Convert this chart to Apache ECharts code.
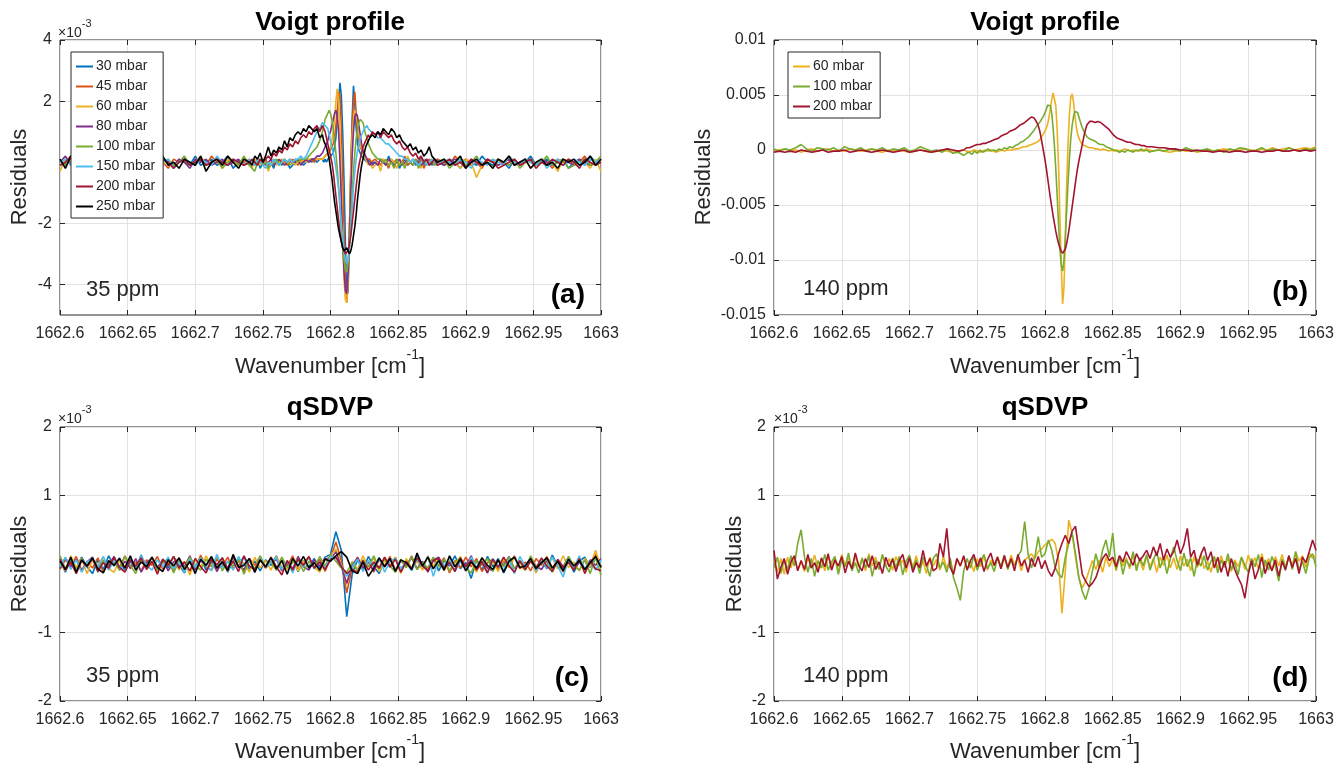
<!DOCTYPE html>
<html><head><meta charset="utf-8">
<script src="https://cdn.jsdelivr.net/npm/echarts@6/dist/echarts.min.js"></script>
<style>html,body{margin:0;padding:0;background:#fff}#c{width:1338px;height:764px}</style>
</head><body><div id="c"></div>
<script>
// ---------- x grids (offsets above 1662.6 cm-1) ----------
// panels (a),(b): thousandths of cm-1
const wnAB = [0,4,8,12,16,20,24,28,32,36,40,44,48,52,56,60,64,68,72,76,80,84,88,92,96,100,104,108,112,116,120,124,128,132,136,140,
142,144,146,148,150,152,154,156,158,160,162,164,166,168,170,172,174,176,178,180,182,184,186,188,190,192,194,
195,196,197,198,199,200,201,202,203,204,205,206,207,208,209,210,211,212,213,214,215,216,217,218,219,220,221,222,223,224,225,226,227,228,229,230,231,
233,235,237,239,241,243,245,247,249,251,253,255,257,259,261,263,265,267,269,271,273,275,277,279,
284,288,292,296,300,304,308,312,316,320,324,328,332,336,340,344,348,352,356,360,364,368,372,376,380,384,388,392,396,400];
// panel (c): thousandths of cm-1
const wnC = [0,4,8,12,16,20,24,28,32,36,40,44,48,52,56,60,64,68,72,76,80,84,88,92,96,100,104,108,112,116,120,124,128,132,136,140,144,148,152,156,160,164,168,172,176,180,184,188,192,196,200,204,208,212,216,220,224,228,232,236,240,244,248,252,256,260,264,268,272,276,280,284,288,292,296,300,304,308,312,316,320,324,328,332,336,340,344,348,352,356,360,364,368,372,376,380,384,388,392,396,400];
// panel (d): ten-thousandths of cm-1
const wnD = [0,25,50,75,100,125,150,175,200,225,250,275,300,325,350,375,400,425,450,475,500,525,550,575,600,625,650,675,700,725,750,775,800,825,850,875,900,925,950,975,1000,1025,1050,1075,1100,1125,1150,1175,1200,1225,1250,1275,1300,1325,1350,1375,1400,1425,1450,1475,1500,1525,1550,1575,1600,1625,1650,1675,1700,1725,1750,1775,1800,1825,1850,1875,1900,1925,1950,1975,2000,2025,2050,2075,2100,2125,2150,2175,2200,2225,2250,2275,2300,2325,2350,2375,2400,2425,2450,2475,2500,2525,2550,2575,2600,2625,2650,2675,2700,2725,2750,2775,2800,2825,2850,2875,2900,2925,2950,2975,3000,3025,3050,3075,3100,3125,3150,3175,3200,3225,3250,3275,3300,3325,3350,3375,3400,3425,3450,3475,3500,3525,3550,3575,3600,3625,3650,3675,3700,3725,3750,3775,3800,3825,3850,3875,3900,3925,3950,3975,4000];

const names8 = ['30 mbar','45 mbar','60 mbar','80 mbar','100 mbar','150 mbar','200 mbar','250 mbar'];
const colors8 = ['#0072BD','#D95319','#EDB120','#7E2F8E','#77AC30','#4DBEEE','#A2142F','#000000'];
const names3 = ['60 mbar','100 mbar','200 mbar'];
const colors3 = ['#EDB120','#77AC30','#A2142F'];

// ---------- (a) Voigt, 35 ppm : units 0.1e-3 ----------
const a30 = [1,-1,2,0,-2,1,-1,0,2,-1,0,1,-2,0,1,-1,2,0,-1,1,0,-2,1,0,-1,2,-1,0,1,-1,0,2,-2,0,1,-1,
0,-1,1,-2,0,1,-1,0,-2,1,0,-1,1,0,-2,-1,0,1,0,-1,0,1,0,1,0,1,1,
0,1,0,1,1,2,2,3,5,8,14,20,26,22,10,-6,-26,-44,-42,-24,-4,14,25,19,11,6,4,3,2,2,1,1,0,1,0,-1,0,
0,-1,1,0,-1,2,0,-1,1,-2,0,1,-1,0,1,-1,0,2,-1,0,1,-1,0,1,
-1,1,0,-2,1,0,-1,2,0,-1,1,0,-2,1,-1,0,2,-1,0,1,-1,0,1,-2,0,1,-1,2,0,1];
const a45 = [-1,0,1,-1,2,0,-1,1,0,-2,1,0,-1,1,2,-1,0,-1,1,0,-2,1,0,1,-1,0,1,-1,2,0,-1,1,0,-1,0,1,
-1,0,1,0,-1,1,-2,0,1,0,-1,1,0,-1,0,1,0,-1,1,0,1,0,1,0,1,1,1,
1,2,2,3,3,4,5,6,8,12,17,23,22,12,-4,-22,-38,-46,-40,-22,-2,12,20,23,16,10,7,5,4,3,2,2,1,1,1,0,0,
1,0,-1,1,0,-2,1,0,1,-1,0,2,-1,0,1,0,-1,1,-2,0,1,0,-1,1,
0,-1,2,0,1,-1,0,-2,1,0,1,-1,2,0,-1,1,0,-1,1,0,-2,1,0,1,-1,0,2,-1,0,1];
const a60 = [-3,1,0,-1,2,-1,0,1,-2,0,1,-1,0,2,-1,0,1,3,0,-1,1,-2,0,1,-1,0,2,-1,0,1,-2,1,0,-1,1,0,
-2,1,0,-1,1,0,-3,0,1,-1,0,1,-1,0,1,0,-1,1,0,1,0,1,1,1,1,1,1,
1,2,2,3,4,5,7,10,14,20,24,20,10,-6,-24,-38,-45,-46,-38,-22,-4,8,14,17,17,13,9,6,4,3,2,1,0,-1,0,-1,-2,
-1,0,-3,1,0,-1,1,0,-2,1,0,-1,2,0,-1,1,0,-2,1,0,-1,1,0,-1,
1,-1,0,-2,1,0,-5,-1,0,1,-1,0,2,-1,0,1,-2,0,1,-1,0,-3,1,0,-1,1,0,-2,1,-3];
const a80 = [0,2,-1,0,1,-1,0,1,-2,0,1,0,-1,1,0,-1,2,0,-1,1,0,-1,1,0,-2,1,0,1,-1,0,1,-1,0,1,-1,0,
1,0,-1,1,0,-1,0,1,-1,0,1,0,-1,0,1,0,0,1,-1,0,1,0,1,1,2,2,3,
4,5,6,7,9,10,12,14,16,17,15,10,0,-12,-26,-36,-42,-43,-36,-24,-10,2,10,15,16,15,12,9,6,4,3,2,1,0,-1,0,-1,
0,-1,1,0,-1,1,0,-1,0,1,-1,0,1,0,-1,1,0,-1,0,1,-1,0,1,0,
-1,0,1,0,-1,1,0,-1,1,0,-1,0,1,-1,0,1,0,-1,1,0,-1,0,1,0,-1,1,0,-1,0,1];
const a100 = [1,-1,2,0,-1,1,3,-1,0,1,-2,0,1,-1,2,0,-1,1,-2,0,1,-1,0,2,-1,0,1,-1,0,1,-2,0,1,-1,2,-1,
-2,-3,0,1,-1,0,-2,-1,0,1,-1,0,1,0,-1,0,1,0,1,1,1,2,3,4,5,7,10,
12,14,15,16,17,16,14,11,7,3,-2,-8,-15,-22,-28,-32,-35,-36,-33,-27,-19,-10,-3,3,8,11,13,14,14,13,11,9,8,6,5,4,3,
2,1,1,0,1,-1,0,-2,1,-1,0,-2,1,0,-1,1,-2,0,1,-1,0,1,-1,0,
1,-2,0,1,-1,0,2,-1,0,-2,1,0,-1,1,-2,0,1,-1,0,2,-1,0,1,-2,-1,0,1,-1,0,2];
const a150 = [0,1,-1,2,0,-1,1,0,-2,1,0,-1,1,0,2,-1,0,1,-1,0,1,-2,0,1,0,-1,1,0,-1,2,0,-1,1,0,-1,1,
0,-1,1,0,-1,-2,0,-1,1,0,-1,0,1,0,1,0,1,1,2,1,2,4,6,8,10,11,13,
13,12,12,11,9,7,5,3,1,-2,-5,-9,-14,-20,-25,-29,-32,-33,-32,-28,-22,-15,-8,-3,1,4,6,8,9,10,11,11,12,11,11,10,10,
9,8,8,7,6,6,5,4,3,2,2,1,1,0,1,0,-1,0,1,-1,0,1,0,-1,
1,0,-1,1,0,-2,1,0,-1,1,0,-1,2,0,-1,1,0,-1,1,-2,0,1,-1,0,1,0,-1,1,0,1];
const a200 = [-1,0,2,-1,1,0,-2,1,0,-1,1,0,-1,2,0,-1,0,1,-1,1,0,-2,0,1,-1,0,1,-1,0,1,0,-1,1,0,-1,0,
1,0,-1,1,0,1,2,1,3,2,4,3,5,4,6,5,7,6,8,9,8,10,9,11,12,10,12,
11,10,8,6,4,2,0,-3,-7,-11,-15,-19,-23,-26,-28,-29,-30,-30,-29,-27,-24,-20,-16,-12,-8,-4,-1,1,3,5,6,7,8,9,8,9,10,
9,10,8,10,9,8,9,7,6,7,5,4,5,3,2,3,1,2,0,1,-1,0,1,-1,
0,1,-1,0,-2,1,0,-1,1,0,-2,-1,0,1,-1,0,1,-2,0,-1,1,0,-1,1,0,-2,1,0,-1,0];
const a250 = [1,-2,2,0,-3,1,0,-1,2,-2,0,1,-1,3,-2,0,1,-1,0,2,-1,0,-2,1,0,-1,2,-3,0,1,-1,2,0,-2,1,0,
-1,2,1,3,0,2,5,2,4,3,5,4,7,5,8,7,9,10,9,11,10,12,11,10,11,8,9,
7,6,5,3,1,-2,-5,-9,-13,-16,-19,-22,-24,-26,-28,-29,-29,-28,-29,-30,-29,-27,-24,-21,-17,-12,-8,-4,-1,1,3,5,6,7,8,8,9,
8,10,9,11,10,9,11,10,8,9,7,6,5,6,4,5,3,4,2,3,5,2,1,0,
1,-1,0,2,-2,0,1,-1,0,-2,1,0,2,-1,0,1,-2,0,1,-1,0,-2,1,0,1,-1,0,2,-1,1];

// ---------- (b) Voigt, 140 ppm : units 1e-4 ----------
const b60 = [-1,0,1,-1,0,-2,0,1,-1,0,1,-1,0,-1,1,0,-1,0,1,-1,-2,0,-1,0,-1,-2,-1,0,-1,-2,-1,0,-1,-2,-1,0,
-1,-2,-1,0,-1,-2,-1,0,-1,0,-1,-2,-1,0,-1,0,0,0,1,1,2,3,3,4,5,6,7,
8,9,11,13,15,17,20,24,30,38,46,52,51,40,18,-14,-60,-105,-140,-125,-80,-30,5,32,48,51,44,32,22,15,11,8,6,5,4,3,3,
2,2,1,1,0,1,0,-1,0,-1,0,-1,0,1,0,-1,0,-1,0,-1,0,1,0,-1,
0,-1,-2,-1,0,-1,0,-2,-1,0,-1,0,1,0,-1,0,1,0,-1,1,0,2,0,1,2,0,1,2,1,3];
const b100 = [1,-1,1,0,2,5,1,-1,2,1,0,2,-1,3,1,0,2,-1,1,0,2,-1,1,0,2,-1,0,3,1,-1,0,-2,1,-3,-2,-5,
-3,-2,-4,-1,-3,0,-2,-1,1,-1,0,-1,1,0,2,1,3,2,4,5,7,8,10,12,15,18,22,
23,25,27,29,31,34,37,41,42,40,33,20,3,-18,-42,-68,-90,-105,-110,-100,-80,-55,-30,-8,10,22,30,35,36,34,30,26,22,19,16,14,12,
10,9,8,6,5,5,3,2,1,0,-1,-2,-1,-2,0,-1,-2,0,-1,1,-1,0,-2,-1,
0,-1,1,0,-1,2,0,-1,0,1,-1,0,-2,1,0,2,1,-1,0,2,-1,1,0,-1,2,0,-1,1,0,2];
const b200 = [-2,-1,-2,-1,-2,0,-1,-2,-1,0,-2,-1,-1,0,-2,-1,0,-1,-2,-1,0,-1,-2,-1,0,-2,-1,0,-1,-2,-1,0,1,0,-1,0,
2,2,3,4,5,5,6,6,7,8,9,10,11,13,14,15,17,18,19,21,23,24,26,28,30,29,25,
22,18,12,5,-2,-9,-17,-26,-35,-44,-52,-60,-67,-74,-80,-85,-89,-92,-94,-93,-90,-85,-78,-70,-61,-52,-43,-34,-25,-17,-10,-4,2,8,14,19,23,
26,26,25,26,25,23,21,19,16,13,11,10,9,8,7,7,6,5,5,4,4,3,3,3,
2,2,1,1,0,0,-1,0,-1,-1,-2,-1,-1,-2,-1,-1,-2,-1,-1,-2,-1,-1,0,-1,-1,0,-1,0,-1,0];

// ---------- (c) qSDVP, 35 ppm : units 0.01e-3 ----------
const c30 = [5,-12,8,-6,10,-4,-14,6,-8,12,-3,9,-11,4,-7,13,-5,2,-10,7,-6,11,-2,-13,8,-4,10,-9,3,-6,9,-12,5,-3,11,-8,4,-10,6,-2,12,-7,-1,9,-11,5,-4,8,-6,10,
14,47,20,-77,-15,6,-9,11,-4,-14,
7,-5,10,-12,3,-8,13,-2,-6,9,-10,5,-3,12,-7,2,-21,6,-9,11,-4,8,-13,3,10,-6,-2,9,-11,5,-7,13,-3,-9,6,-12,4,10,-5,8,-3];
const c45 = [-8,6,-3,11,-9,4,-6,9,-12,2,8,-5,12,-7,3,-10,6,-2,11,-8,4,-11,9,-5,2,-8,13,-4,-9,7,-3,10,-7,5,-12,8,-2,11,-6,3,-9,6,-4,12,-8,2,10,-5,7,-11,
9,32,5,-42,-6,10,-7,4,-12,8,
-3,11,-9,6,-5,12,-8,3,-10,7,-2,9,-13,5,-6,10,-4,8,-11,2,7,-9,4,-5,12,-7,3,-10,8,-2,11,-6,5,-12,9,-3,7,-8,2,14,-5];
const c60 = [3,-10,12,-5,8,-14,6,-2,10,-7,-12,5,-4,9,-8,11,-6,3,-13,7,-2,10,-9,4,-16,8,-5,12,-3,-8,6,-11,9,-4,2,-12,10,-6,5,-9,11,-3,-8,7,-10,4,9,-5,-12,6,
12,22,-2,-30,4,-8,12,-5,9,-11,
5,-2,10,-14,8,-6,4,-9,12,-3,7,-10,5,-4,11,-8,2,-12,9,-6,3,-11,8,-5,10,-3,-9,6,-13,4,-2,9,-7,12,-5,3,-10,8,-4,20,-6];
const c80 = [-6,9,-4,7,-11,3,10,-8,5,-2,11,-9,4,-6,8,-12,2,9,-5,6,-10,3,7,-4,12,-9,5,-2,8,-11,4,-6,10,-3,-8,6,-12,9,-5,2,7,-10,4,-7,11,-4,-9,6,-3,8,
6,18,-4,-28,-2,9,-6,3,-10,7,
-4,8,-11,5,-2,9,-7,4,-12,6,10,-5,3,-9,7,-3,12,-8,4,-6,-10,6,-2,11,-7,4,-5,9,-3,-8,5,-11,7,-4,10,-6,3,-9,6,-2,8];
const c100 = [12,-7,4,-10,6,-3,9,-12,5,-5,3,-9,11,-2,-14,7,-4,10,-8,2,8,-13,5,-6,10,-2,-9,7,-4,11,-10,4,-3,8,-15,6,-7,12,-4,3,-9,10,-5,2,7,-11,4,-6,11,-3,
14,4,-6,-12,2,-10,6,-4,12,-7,
9,-3,-12,7,-5,11,-8,2,-6,10,-4,7,-10,3,9,-6,-13,5,-2,8,-11,6,-4,10,-7,3,-9,12,-5,2,7,-12,4,-6,11,-3,-9,6,-14,10,-16];
const c150 = [-4,10,-8,6,-12,3,8,-5,11,-9,5,-3,-11,8,-6,12,-2,-9,6,-4,10,-7,3,-12,7,-5,9,-2,-10,14,-6,4,-9,11,-3,6,-12,8,-5,2,9,-8,5,-13,6,-4,10,-7,3,-6,
11,8,-3,-18,-5,7,-11,5,-3,9,
-12,4,8,-6,2,-10,7,-4,11,-18,6,-3,9,-11,4,-7,10,-5,2,-13,8,-2,-9,6,-14,11,-4,5,-10,7,-6,10,-3,-19,8,-5,12,-8,4,-9,6];
const c200 = [7,-9,3,-14,5,-4,8,-11,2,-6,10,-5,-12,6,-3,9,-8,4,-15,7,-2,11,-6,3,-10,8,-4,-13,6,-1,9,-7,4,-11,12,-3,-8,6,-5,10,-4,-16,5,-9,7,-2,11,-6,3,-8,
6,10,-4,-14,-8,-12,5,-9,3,-6,
10,-4,7,-12,4,-7,9,-3,-10,5,8,-6,2,-11,9,-4,6,-9,3,-13,7,-5,10,-3,-12,5,-8,4,-6,9,-3,-11,6,-5,2,-9,8,-14,4,-7,-10];
const c250 = [4,-8,10,-12,6,-3,9,-7,-13,5,-2,8,-6,12,-9,3,-4,10,-5,-11,6,-3,9,-8,4,-14,7,-2,11,-6,3,-10,14,-5,-2,8,-12,6,-4,9,-7,5,-15,8,-3,11,-6,2,-9,7,
4,12,18,10,-10,-14,3,-18,-6,9,
-4,8,-11,6,2,-8,16,-3,10,-7,5,-9,12,-4,7,-10,3,-6,9,-2,-8,6,-12,4,10,-5,-3,8,-7,2,9,-6,4,-10,7,-3,5,-8,2,11,-5];

// ---------- (d) qSDVP, 140 ppm : units 0.01e-3 ----------
const d60 = [5,-12,8,-15,10,-6,12,-9,4,-11,9,-4,13,-7,6,-10,11,-3,8,-12,14,-2,9,-8,12,-5,7,-10,15,-3,10,-6,13,-4,8,-9,11,-2,6,-12,
9,-5,12,-8,4,-14,10,-3,7,-9,11,-6,5,-13,8,-2,10,-7,4,-11,8,-4,12,-9,6,-3,11,-7,9,-5,13,-2,8,-10,6,10,15,8,18,22,
28,32,36,30,5,-72,-10,64,45,10,-20,-35,-25,-10,5,-8,6,-12,10,-4,8,-10,12,-3,9,-7,14,-5,6,-9,11,-4,8,-12,10,-2,13,-6,9,-8,
12,-3,7,-10,11,-5,14,-7,4,-12,9,-6,12,-3,8,-11,6,-4,10,-8,13,-2,9,-7,15,-4,8,-9,11,-3,14,-6,10,-2,18,4,12,-5,16,8,14];
const d100 = [-5,10,-14,6,-8,12,-3,30,50,10,-12,8,-18,5,-6,14,-9,3,11,-15,7,-4,16,-10,2,-13,9,-6,12,-18,5,-8,14,-3,-12,9,-5,11,-16,4,
13,-7,6,-14,10,-2,-18,8,15,-6,3,-12,9,-20,-35,-53,-10,8,-6,12,-9,4,14,-7,2,-11,9,-4,13,-8,6,-3,11,20,62,15,-6,10,40,10,
15,35,20,-5,-15,-20,10,30,45,15,-20,-40,-52,-35,-10,15,-5,20,35,10,45,-8,12,-15,6,-4,18,-10,9,-3,14,-9,6,18,-6,10,-14,8,25,5,
-10,16,-4,9,-18,7,-3,12,-9,4,11,-13,6,-5,15,-8,3,-16,10,-2,-12,8,-4,14,-20,6,-9,11,-3,-25,7,-5,12,-8,18,-10,4,-14,9,15,-4];
const d200 = [20,-22,-5,8,-15,3,12,-10,5,-8,14,-6,2,-12,9,-4,15,-9,6,-3,11,-13,4,-7,16,-2,-10,8,-5,12,-8,3,-14,10,-4,7,-11,5,14,-6,
9,-12,2,-5,20,-3,8,-10,-6,30,10,52,-5,-15,8,-3,12,-9,5,14,-4,9,-11,6,16,-2,10,-7,12,-5,8,-10,14,-3,6,-12,9,-4,11,-7,
5,-10,-18,-6,15,30,42,30,48,55,20,-15,-25,-33,-28,-20,-5,8,15,5,10,-4,12,3,18,8,-2,15,5,12,20,8,25,12,30,6,22,10,18,35,
15,28,52,10,20,-2,14,25,5,18,-6,10,-12,4,-18,8,-8,-20,-30,-50,-15,5,-22,-8,10,-14,3,-10,6,-18,4,-9,12,-5,8,-14,10,2,18,35,20];

// ---------- build ----------
const X0 = 1662.6;
const FONT = "'Liberation Sans', Arial, Helvetica, sans-serif";
const TXT = '#262626';
function pts(grid, gdiv, vals, vdiv) {
  const n = Math.min(grid.length, vals.length);
  const out = [];
  for (let i = 0; i < n; i++) out.push([X0 + grid[i] / gdiv, vals[i] / vdiv]);
  return out;
}
const grids = [
  {left: 60, top: 40, width: 541, height: 275},
  {left: 774, top: 40, width: 542, height: 275},
  {left: 60, top: 427, width: 541, height: 274},
  {left: 774, top: 427, width: 542, height: 274}
].map(g => Object.assign(g, {show: true, borderColor: TXT, borderWidth: 1, backgroundColor: '#fff'}));

const yCfg = [
  {min: -5, max: 4, interval: 1, custom: [-4, -2, 2, 4]},
  {min: -0.015, max: 0.01, interval: 0.005, custom: null},
  {min: -2, max: 2, interval: 1, custom: [-2, -1, 1, 2]},
  {min: -2, max: 2, interval: 1, custom: [-2, -1, 1, 2]}
];
const tickStyle = {inside: true, length: 5, lineStyle: {color: TXT}};
const xAxes = [], yAxes = [];
for (let side = 0; side < 2; side++) {
  for (let g = 0; g < 4; g++) {
    xAxes.push({type: 'value', gridIndex: g, min: 1662.6, max: 1663, interval: 0.05,
      position: side ? 'top' : 'bottom',
      axisLine: {show: false, onZero: false}, axisTick: tickStyle,
      axisLabel: {show: !side, color: TXT, fontSize: 16, fontFamily: FONT, margin: 11,
        formatter: v => String(+(+v).toFixed(3))},
      splitLine: {show: !side, lineStyle: {color: '#e2e2e2', width: 1}}});
  }
}
for (let side = 0; side < 2; side++) {
  for (let g = 0; g < 4; g++) {
    const c = yCfg[g];
    const ax = {type: 'value', gridIndex: g, min: c.min, max: c.max, interval: c.interval,
      position: side ? 'right' : 'left',
      axisLine: {show: false, onZero: false},
      axisTick: {inside: true, length: 5, lineStyle: {color: TXT}},
      axisLabel: {show: !side, color: TXT, fontSize: 16, fontFamily: FONT, margin: 8},
      splitLine: {show: !side, lineStyle: {color: '#e2e2e2', width: 1}}};
    if (c.custom) { ax.axisTick.customValues = c.custom; ax.axisLabel.customValues = c.custom; }
    yAxes.push(ax);
  }
}

const series = [];
function addLine(name, color, g, data) {
  series.push({type: 'line', name: name, xAxisIndex: g, yAxisIndex: g, data: data,
    showSymbol: false, symbol: 'none', lineStyle: {width: 1.6, color: color}, itemStyle: {color: color},
    emphasis: {disabled: true}, animation: false});
}
const aSets = [a30, a45, a60, a80, a100, a150, a200, a250];
const cSets = [c30, c45, c60, c80, c100, c150, c200, c250];
const bSets = [b60, b100, b200];
const dSets = [d60, d100, d200];
aSets.forEach((v, i) => addLine(names8[i], colors8[i], 0, pts(wnAB, 1000, v, 10)));
bSets.forEach((v, i) => addLine(names3[i], colors3[i], 1, pts(wnAB, 1000, v, 10000)));
cSets.forEach((v, i) => addLine(names8[i], colors8[i], 2, pts(wnC, 1000, v, 100)));
dSets.forEach((v, i) => addLine(names3[i], colors3[i], 3, pts(wnD, 10000, v, 100)));

const legendBase = {orient: 'vertical', icon: 'rect', itemWidth: 17, itemHeight: 2, itemGap: 5,
  padding: [7, 8, 4, 5], borderColor: TXT, borderWidth: 1, backgroundColor: '#fff', selectedMode: false,
  textStyle: {color: TXT, fontSize: 14, fontFamily: FONT, lineHeight: 15, padding: [0, 0, 0, -2]}};

function T(x, y, text, o) {
  o = o || {};
  return {type: 'text', x: x, y: y, rotation: o.rot || 0, z: 100, silent: true,
    style: {text: text, fill: o.fill || TXT, fontSize: o.size || 22, fontFamily: FONT,
      fontWeight: o.bold ? 'bold' : 'normal', textAlign: o.align || 'center', textVerticalAlign: 'middle',
      rich: o.rich}};
}
const wnRich = {n: {fontSize: 22, fontFamily: FONT, fill: TXT, verticalAlign: 'bottom', lineHeight: 30},
                s: {fontSize: 14, fontFamily: FONT, fill: TXT, verticalAlign: 'top', lineHeight: 30}};
const expRich = {n: {fontSize: 14, fontFamily: FONT, fill: TXT, verticalAlign: 'bottom', lineHeight: 22},
                 s: {fontSize: 11, fontFamily: FONT, fill: TXT, verticalAlign: 'top', lineHeight: 22}};
const wnText = '{n|Wavenumber [cm}{s|-1}{n|]}';
const expText = '{n|\u00d710}{s|-3}';
const graphics = [
  T(330, 23, 'Voigt profile', {bold: true, size: 26, fill: '#000'}),
  T(1045, 23, 'Voigt profile', {bold: true, size: 26, fill: '#000'}),
  T(330, 408, 'qSDVP', {bold: true, size: 26, fill: '#000'}),
  T(1045, 408, 'qSDVP', {bold: true, size: 26, fill: '#000'}),
  T(20, 177, 'Residuals', {rot: Math.PI / 2}),
  T(704, 177, 'Residuals', {rot: Math.PI / 2}),
  T(20, 564, 'Residuals', {rot: Math.PI / 2}),
  T(735, 564, 'Residuals', {rot: Math.PI / 2}),
  T(330, 363, wnText, {rich: wnRich}),
  T(1045, 363, wnText, {rich: wnRich}),
  T(330, 748, wnText, {rich: wnRich}),
  T(1045, 748, wnText, {rich: wnRich}),
  T(58, 29, expText, {align: 'left', rich: expRich}),
  T(58, 415, expText, {align: 'left', rich: expRich}),
  T(774, 415, expText, {align: 'left', rich: expRich}),
  T(86, 290, '35 ppm', {align: 'left'}),
  T(86, 676, '35 ppm', {align: 'left'}),
  T(803, 289, '140 ppm', {align: 'left'}),
  T(803, 676, '140 ppm', {align: 'left'}),
  T(585, 295, '(a)', {align: 'right', bold: true, size: 28, fill: '#000'}),
  T(1308, 292, '(b)', {align: 'right', bold: true, size: 28, fill: '#000'}),
  T(589, 678, '(c)', {align: 'right', bold: true, size: 28, fill: '#000'}),
  T(1308, 678, '(d)', {align: 'right', bold: true, size: 28, fill: '#000'})
];

const chart = echarts.init(document.getElementById('c'), null, {renderer: 'canvas'});
chart.setOption({
  animation: false,
  backgroundColor: '#fff',
  textStyle: {fontFamily: FONT},
  grid: grids,
  xAxis: xAxes,
  yAxis: yAxes,
  legend: [
    Object.assign({}, legendBase, {data: names8, left: 71, top: 52}),
    Object.assign({}, legendBase, {data: names3, left: 788, top: 52})
  ],
  series: series,
  graphic: graphics
});
</script>
</body></html>
